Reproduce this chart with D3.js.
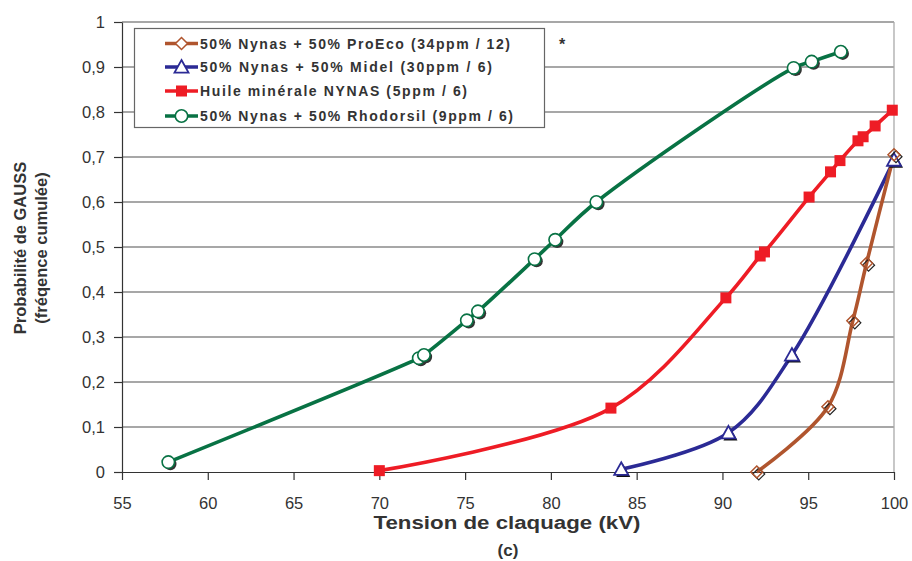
<!DOCTYPE html>
<html><head><meta charset="utf-8">
<script src="https://cdn.jsdelivr.net/npm/d3@7/dist/d3.min.js"></script>
<style>body{margin:0;background:#fff}svg{display:block}text{font-family:"Liberation Sans",Arial,sans-serif}</style>
</head><body><svg id="c" width="912" height="561"></svg>
<script>
const xTicks = [55,60,65,70,75,80,85,90,95,100];
const yTicks = [0,0.1,0.2,0.3,0.4,0.5,0.6,0.7,0.8,0.9,1];
const seriesNames = ["50% Nynas + 50% ProEco (34ppm / 12)","50% Nynas + 50% Midel (30ppm / 6)","Huile minérale NYNAS (5ppm / 6)","50% Nynas + 50% Rhodorsil (9ppm / 6)"];
const proEcoX = [92.0,96.15,97.6,98.4,100];
const proEcoY = [0.0,0.145,0.336,0.464,0.705];
const midelX = [84.1,90.35,94.05,100];
const midelY = [0.006,0.087,0.26,0.693];
const nynasX = [70,83.5,90.2,92.2,92.45,95.05,96.3,96.85,97.9,98.2,98.9,99.9];
const nynasY = [0.003,0.142,0.387,0.48,0.489,0.611,0.667,0.692,0.736,0.745,0.769,0.804];
const rhodX = [57.7,72.3,72.6,75.1,75.75,79.05,80.25,82.65,94.15,95.2,96.9];
const rhodY = [0.022,0.253,0.26,0.337,0.357,0.473,0.516,0.6,0.898,0.912,0.934];

const svg = d3.select("#c");
const x = d3.scaleLinear().domain([55,100]).range([122,894]);
const y = d3.scaleLinear().domain([0,1]).range([472,22]);
const fmt = d => d3.format(".1f")(d).replace(".",",").replace(/,0$/,"");

svg.append("g").selectAll("line").data(yTicks.slice(1)).join("line")
  .attr("x1",122).attr("x2",894).attr("y1",d=>y(d)).attr("y2",d=>y(d))
  .attr("stroke","#8a8a8a").attr("stroke-width",1.3);
svg.append("line").attr("x1",894).attr("x2",894).attr("y1",22).attr("y2",472).attr("stroke","#aaa").attr("stroke-width",1.3);

const gx = svg.append("g").attr("transform","translate(0,472)")
  .call(d3.axisBottom(x).tickValues(xTicks).tickSize(8).tickSizeOuter(0).tickFormat(d=>d));
const gy = svg.append("g").attr("transform","translate(122,0)")
  .call(d3.axisLeft(y).tickValues(yTicks).tickSize(8).tickSizeOuter(0).tickFormat(fmt));
[gx,gy].forEach(g=>{
  g.select(".domain").attr("stroke","#333").attr("stroke-width",1.2);
  g.selectAll(".tick line").attr("stroke","#333").attr("stroke-width",1.2);
  g.selectAll("text").attr("fill","#333").style("font-size","16.5px");
});
gx.selectAll("text").attr("dy","1.55em");
gy.selectAll("text").attr("x",-17).attr("dy","0.35em");

const colors = ["#b0552e","#2b2a95","#ee1c25","#087244"];
const seriesData = [
  d3.zip(proEcoX,proEcoY), d3.zip(midelX,midelY), d3.zip(nynasX,nynasY), d3.zip(rhodX,rhodY)
];
const line = d3.line().x(d=>x(d[0])).y(d=>y(d[1])).curve(d3.curveCatmullRom.alpha(0.5));

const order = [3,2,1,0];
order.forEach(i=>{
  svg.append("path").datum(seriesData[i]).attr("d",line)
    .attr("fill","none").attr("stroke",colors[i]).attr("stroke-width",3.6).attr("stroke-linejoin","round");
});

function marker(g, i, cx, cy, shadow){
  const c = colors[i];
  if(i===0){
    const s=6;
    if(shadow) g.append("path").attr("d",`M${cx+2},${cy-s+2}L${cx+s+2},${cy+2}L${cx+2},${cy+s+2}L${cx-s+2},${cy+2}Z`).attr("fill","none").attr("stroke","#222").attr("stroke-width",1.2);
    g.append("path").attr("d",`M${cx},${cy-s}L${cx+s},${cy}L${cx},${cy+s}L${cx-s},${cy}Z`).attr("fill","#fff").attr("fill-opacity",shadow?0:1).attr("stroke",c).attr("stroke-width",1.5);
  } else if(i===1){
    const s=7;
    if(shadow) g.append("path").attr("d",`M${cx+2},${cy-s+2}L${cx+s+2},${cy+s*0.8+2}L${cx-s+2},${cy+s*0.8+2}Z`).attr("fill","#111");
    g.append("path").attr("d",`M${cx},${cy-s}L${cx+s},${cy+s*0.8}L${cx-s},${cy+s*0.8}Z`).attr("fill","#fff").attr("stroke",c).attr("stroke-width",1.8);
  } else if(i===2){
    const s=5.5;
    g.append("rect").attr("x",cx-s).attr("y",cy-s).attr("width",2*s).attr("height",2*s).attr("fill",c);
  } else {
    const r=6.2;
    if(shadow) g.append("circle").attr("cx",cx+2).attr("cy",cy+2).attr("r",r).attr("fill","#333");
    g.append("circle").attr("cx",cx).attr("cy",cy).attr("r",r).attr("fill","#fff").attr("stroke",c).attr("stroke-width",1.6);
  }
}
order.forEach(i=>{
  const g = svg.append("g");
  seriesData[i].forEach(d=>marker(g,i,x(d[0]),y(d[1]),true));
});

const lg = svg.append("g");
lg.append("rect").attr("x",134.5).attr("y",28.5).attr("width",410).attr("height",99)
  .attr("fill","#fff").attr("stroke","#666").attr("stroke-width",1.2);
const rowsY = [43.5,67,91,116];
const rowLens = [310,292,267,313];
seriesNames.forEach((n,i)=>{
  const ly = rowsY[i];
  lg.append("line").attr("x1",165).attr("x2",198).attr("y1",ly).attr("y2",ly).attr("stroke",colors[i]).attr("stroke-width",3.6);
  marker(lg,i,181.5,ly,false);
  lg.append("text").attr("x",200).attr("y",ly).attr("dy","0.36em").attr("fill","#333")
    .attr("textLength",rowLens[i]).attr("lengthAdjust","spacing")
    .style("font-size","14px").style("font-weight","bold").text(n);
});
svg.append("text").attr("x",559).attr("y",50).attr("fill","#333").style("font-size","16px").style("font-weight","bold").text("*");

svg.append("text").attr("x",507).attr("y",529).attr("text-anchor","middle").attr("fill","#333")
  .attr("textLength",267).attr("lengthAdjust","spacingAndGlyphs")
  .style("font-size","18px").style("font-weight","bold").text("Tension de claquage (kV)");
svg.append("text").attr("x",508).attr("y",556).attr("text-anchor","middle").attr("fill","#333")
  .style("font-size","17px").style("font-weight","bold").text("(c)");
const yt = svg.append("text").attr("transform","translate(26,248) rotate(-90)").attr("text-anchor","middle")
  .attr("fill","#333").style("font-size","16.5px").style("font-weight","bold");
yt.append("tspan").attr("x",0).attr("y",0).text("Probabilité de GAUSS");
yt.append("tspan").attr("x",0).attr("y",21).text("(fréqence cumulée)");
</script></body></html>
